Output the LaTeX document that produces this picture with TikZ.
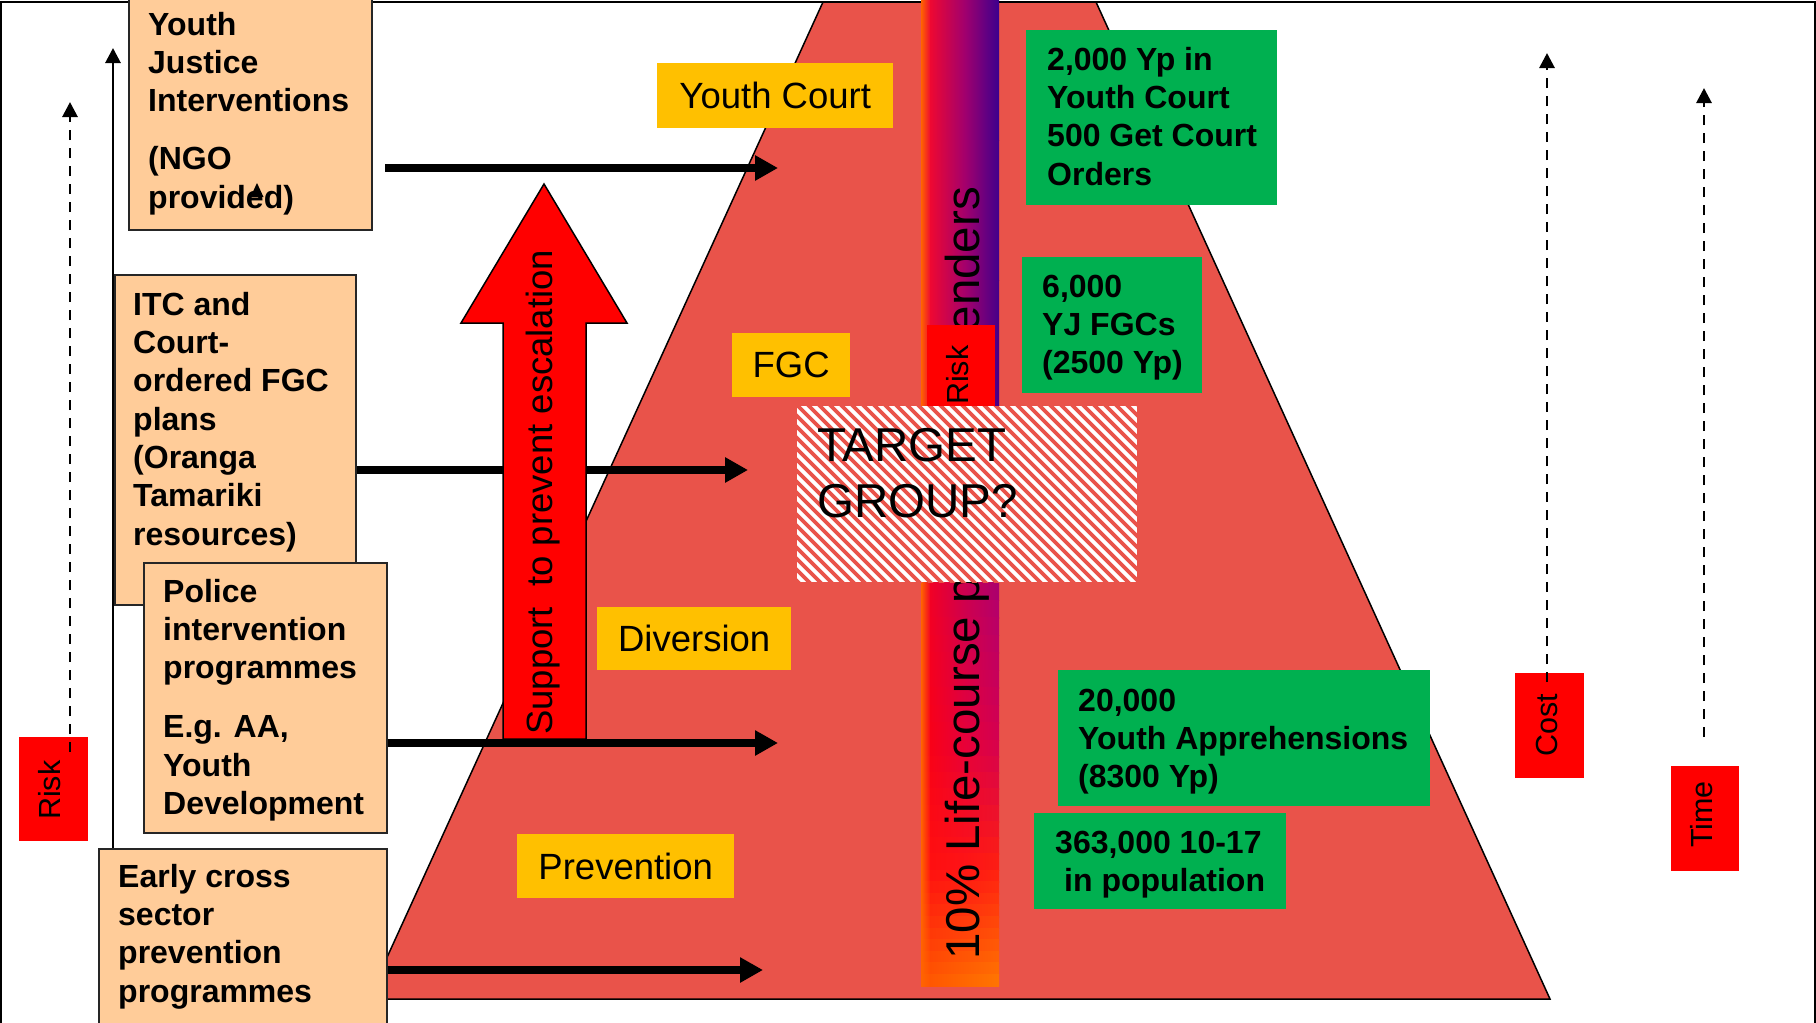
\documentclass[tikz,border=0pt]{standalone}
\usepackage{fontspec}
\setmainfont{Liberation Sans}
\usetikzlibrary{arrows.meta}
\definecolor{salmon}{HTML}{E9534A}
\definecolor{peachc}{HTML}{FFCC99}
\definecolor{goldc}{HTML}{FFC000}
\definecolor{greenc}{HTML}{00B050}
\definecolor{redc}{HTML}{FF0000}
\definecolor{edgeor}{HTML}{FF6400}
% bar key colours (left / middle / right)
\definecolor{kaL}{HTML}{EE0832}\definecolor{kaM}{HTML}{A0006E}\definecolor{kaR}{HTML}{3A008F}
\definecolor{kbL}{HTML}{EE0832}\definecolor{kbM}{HTML}{A8006A}\definecolor{kbR}{HTML}{480088}
\definecolor{kcL}{HTML}{F20025}\definecolor{kcM}{HTML}{CE004E}\definecolor{kcR}{HTML}{B2006C}
\definecolor{kdL}{HTML}{F80018}\definecolor{kdM}{HTML}{E6003A}\definecolor{kdR}{HTML}{D40050}
\definecolor{keL}{HTML}{FF1010}\definecolor{keM}{HTML}{FF1414}\definecolor{keR}{HTML}{FF2010}
\definecolor{kfL}{HTML}{FF5A00}\definecolor{kfM}{HTML}{FF6A00}\definecolor{kfR}{HTML}{FF7800}
\newcommand\fB{\fontsize{32}{38.3}\selectfont\bfseries}
\newcommand\fL{\fontsize{36.5}{44}\selectfont}
\newcommand\fR{\fontsize{30.5}{36}\selectfont}
\newcommand\barseg[9]{%
  \foreach \k in {1,...,#3}{%
    \pgfmathsetmacro\ya{#1+(\k-1)*(#2-#1)/#3}%
    \pgfmathsetmacro\yb{#1+\k*(#2-#1)/#3+0.8}%
    \pgfmathtruncatemacro\pp{100*(\k-0.5)/#3}%
    \colorlet{bcL}{#7!\pp!#4}%
    \colorlet{bcM}{#8!\pp!#5}%
    \colorlet{bcR}{#9!\pp!#6}%
    \shade[left color=edgeor, right color=bcL] (921,\ya) rectangle (930.5,\yb);
    \shade[left color=bcL, right color=bcR, middle color=bcM] (930,\ya) rectangle (999,\yb);
  }%
}
\begin{document}
\begin{tikzpicture}[x=1pt,y=-1pt,
  peach/.style={draw=black!85, line width=1.6pt, fill=peachc, inner sep=0pt, anchor=north west},
  greenbox/.style={fill=greenc, inner sep=0pt, anchor=north west},
  ylab/.style={fill=goldc, inner sep=0pt, anchor=north west, font=\fL},
  redbox/.style={fill=redc, inner sep=0pt, anchor=north west},
  txt/.style={inner sep=0pt, align=left, anchor=north west, font=\fB},
  rottxt/.style={inner sep=0pt, rotate=90, font=\fR, anchor=base west},
  bigarrow/.style={line width=7.5pt, -{Triangle[length=23pt,width=24pt]}},
  thinarrow/.style={line width=2.8pt, -{Triangle[length=15pt,width=15pt]}},
  dasharrow/.style={thinarrow, dash pattern=on 10pt off 8pt},
]
\useasboundingbox (0,0) rectangle (1816,1023);
\clip (0,0) rectangle (1816,1023);
\fill[white] (0,0) rectangle (1816,1023);
% frame
\draw[line width=2pt] (1,2) rectangle (1815,1040);
% pyramid
\draw[fill=salmon, line width=1.5pt] (823,2) -- (1096,2) -- (1550,999) -- (368,999) -- cycle;
% gradient bar
\barseg{0}{420}{3}{kaL}{kaM}{kaR}{kbL}{kbM}{kbR}
\barseg{420}{600}{8}{kbL}{kbM}{kbR}{kcL}{kcM}{kcR}
\barseg{600}{740}{8}{kcL}{kcM}{kcR}{kdL}{kdM}{kdR}
\barseg{740}{870}{8}{kdL}{kdM}{kdR}{keL}{keM}{keR}
\barseg{870}{986}{10}{keL}{keM}{keR}{kfL}{kfM}{kfR}
\node[rottxt, font=\fontsize{47.5}{56}\selectfont] (lcp) at (979,960) {10\% Life-course persistent offenders};
% risk box on bar
\node[redbox, minimum width=68pt, minimum height=105pt] (riskB) at (927,325) {};
\node[rottxt] (riskBt) at (968,405) {Risk};
% target group
\node[fill=white, inner sep=0pt, anchor=north west, minimum width=340pt, minimum height=176pt] (target) at (797,406) {};
\begin{scope}
  \clip (target.north west) rectangle (target.south east);
  \foreach \c in {205,216,...,745}
    \draw[salmon, line width=3.8pt] (\c+380,380) -- (\c+600,600);
\end{scope}
\node[inner sep=0pt, align=left, anchor=north west, font=\fontsize{47.5}{56}\selectfont] (targett) at (817,422) {\strut TARGET\\\strut GROUP?};
% green boxes
\node[greenbox, minimum width=251pt, minimum height=175pt] (g1) at (1026,30) {};
\node[txt] (g1t) at (1047,43.2) {\strut 2,000 Yp in\\\strut Youth Court\\\strut 500 Get Court\\\strut Orders};
\node[greenbox, minimum width=180pt, minimum height=136pt] (g2) at (1022,257) {};
\node[txt] (g2t) at (1042,270.2) {\strut 6,000\\\strut YJ FGCs\\\strut (2500 Yp)};
\node[greenbox, minimum width=372pt, minimum height=136pt] (g3) at (1058,670) {};
\node[txt] (g3t) at (1078,684.2) {\strut 20,000\\\strut Youth Apprehensions\\\strut (8300 Yp)};
\node[greenbox, minimum width=252pt, minimum height=96pt] (g4) at (1034,813) {};
\node[txt] (g4t) at (1055,826.2) {\strut 363,000 10-17\\\strut\hspace*{9pt}in population};
% yellow labels
\node[ylab, minimum width=236pt, minimum height=65pt] (yc) at (657,63) {Youth Court};
\node[ylab, minimum width=118pt, minimum height=64pt] (fgc) at (732,333) {FGC};
\node[ylab, minimum width=194pt, minimum height=63pt] (div) at (597,607) {Diversion};
\node[ylab, minimum width=217pt, minimum height=64pt] (prev) at (517,834) {Prevention};
% red side boxes
\node[redbox, minimum width=69pt, minimum height=104pt] (riskL) at (19,737) {};
\node[rottxt] (riskLt) at (60,820) {Risk};
\node[redbox, minimum width=69pt, minimum height=105pt] (cost) at (1515,673) {};
\node[rottxt] (costt) at (1557,757) {Cost};
\node[redbox, minimum width=68pt, minimum height=105pt] (time) at (1671,766) {};
\node[rottxt] (timet) at (1712,848) {Time};
% dashed arrows
\coordinate (rbot) at (70,752); \coordinate (rtop) at (70,102);
\coordinate (cbot) at (1547,682); \coordinate (ctop) at (1547,53);
\coordinate (tbot) at (1704,737); \coordinate (ttop) at (1704,88);
\draw[dasharrow] (rbot) -- (rtop);
\draw[dasharrow] (cbot) -- (ctop);
\draw[dasharrow] (tbot) -- (ttop);
% peach boxes
\node[peach, minimum width=288pt, minimum height=200pt] (early) at (98,848) {};
\coordinate (vtop) at (113,48);
\draw[thinarrow] (early.north -| vtop) -- (vtop);
\node[peach, minimum width=243pt, minimum height=269pt] (ngo) at (128,-40) {};
\node[txt] (ngot) at (148,8.2) {\strut Youth\\\strut Justice\\\strut Interventions\\[19.7pt]\strut (NGO\\\strut provided)};
\node[peach, minimum width=241pt, minimum height=330pt] (itc) at (114,274) {};
\node[txt] (itct) at (133,288.2) {\strut ITC and\\\strut Court-\\\strut ordered FGC\\\strut plans\\\strut (Oranga\\\strut Tamariki\\\strut resources)};
\node[peach, minimum width=243pt, minimum height=270pt] (pol) at (143,562) {};
\node[txt] (polt) at (163,575.2) {\strut Police\\\strut intervention\\\strut programmes\\[20.7pt]\strut E.g. AA,\\\strut Youth\\\strut Development};
\node[txt] (earlyt) at (118,860.2) {\strut Early cross\\\strut sector\\\strut prevention\\\strut programmes};
% horizontal arrows
\coordinate (a1s) at (385,168); \coordinate (a1e) at (778,168);
\coordinate (a2e) at (748,470);
\coordinate (a3e) at (778,743);
\coordinate (a4e) at (763,970);
\draw[bigarrow] (itc.east |- a2e) -- (a2e);
% big red arrow
\draw[fill=redc, line width=1.5pt] (503,739) -- (503,323) -- (461,323) -- (544,184) -- (627,323) -- (586,323) -- (586,739) -- cycle;
\node[rottxt, font=\fL] (sup) at (552,735) {Support\ \ to prevent escalation};
\draw[bigarrow] (a1s) -- (a1e);
\draw[bigarrow] (pol.east |- a3e) -- (a3e);
\draw[bigarrow] (early.east |- a4e) -- (a4e);
% small arrowhead
\fill (257,183) -- (263.5,197) -- (250.5,197) -- cycle;
\end{tikzpicture}
\end{document}
